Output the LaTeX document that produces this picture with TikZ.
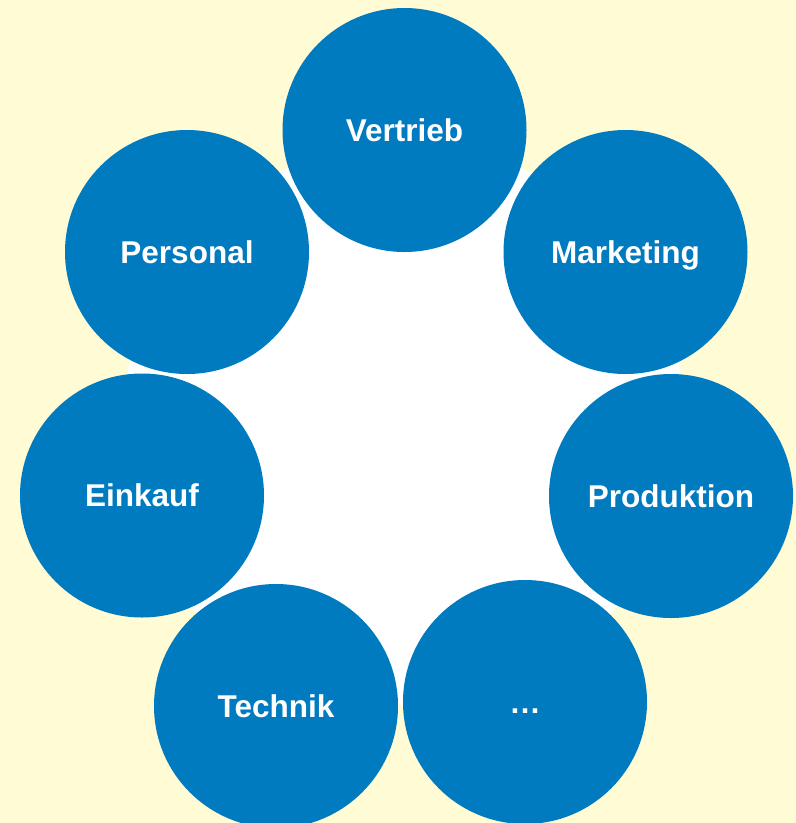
\documentclass[tikz,border=0pt]{standalone}
\usepackage{fontspec}
\setmainfont{Liberation Sans}
\definecolor{bgyellow}{HTML}{FFFBD5}
\definecolor{dblue}{HTML}{007BC0}
\begin{document}
\begin{tikzpicture}[x=1pt,y=-1pt,
  unit/.style={circle, fill=dblue, draw=none, minimum size=244pt, inner sep=0pt,
    text=white, font=\fontsize{31.5}{36}\selectfont\bfseries,
    text height=28pt, text depth=6pt}]
\useasboundingbox (0,0) rectangle (796,823);
\clip (0,0) rectangle (796,823);
\fill[bgyellow] (0,0) rectangle (796,823);
\fill[white] (404,424) circle (281);
\node[unit] (vertrieb) at (404.5,130) {Vertrieb};
\node[unit] (personal) at (187,252) {Personal};
\node[unit] (marketing) at (625.5,252) {Marketing};
\node[unit] (einkauf) at (142,495.5) {Einkauf};
\node[unit] (technik) at (276,706) {Technik};
\node[unit] (produktion) at (671,496) {Produktion};
\node[unit] (more) at (525,702) {…};
\end{tikzpicture}
\end{document}
